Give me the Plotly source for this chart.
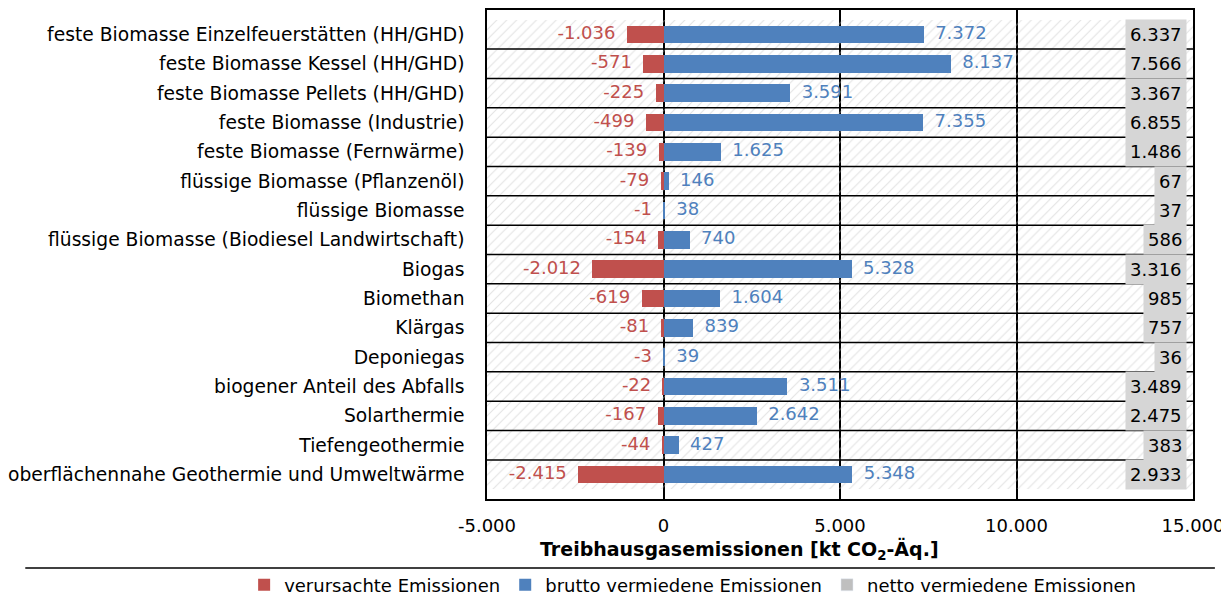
import plotly.graph_objects as go

# Kategorien (von oben nach unten)
kategorien = [
    "feste Biomasse Einzelfeuerstätten (HH/GHD)",
    "feste Biomasse Kessel (HH/GHD)",
    "feste Biomasse Pellets (HH/GHD)",
    "feste Biomasse (Industrie)",
    "feste Biomasse (Fernwärme)",
    "flüssige Biomasse (Pflanzenöl)",
    "flüssige Biomasse",
    "flüssige Biomasse (Biodiesel Landwirtschaft)",
    "Biogas",
    "Biomethan",
    "Klärgas",
    "Deponiegas",
    "biogener Anteil des Abfalls",
    "Solarthermie",
    "Tiefengeothermie",
    "oberflächennahe Geothermie und Umweltwärme",
]

verursacht = [-1036, -571, -225, -499, -139, -79, -1, -154, -2012, -619, -81, -3, -22, -167, -44, -2415]
brutto = [7372, 8137, 3591, 7355, 1625, 146, 38, 740, 5328, 1604, 839, 39, 3511, 2642, 427, 5348]
netto = [6337, 7566, 3367, 6855, 1486, 67, 37, 586, 3316, 985, 757, 36, 3489, 2475, 383, 2933]

x_ticks = [-5000, 0, 5000, 10000, 15000]

ROT = "#C0504D"
BLAU = "#4F81BD"
GRAU = "#D6D6D6"
FONT = "DejaVu Sans"
FS = 18


def de(v):
    # deutsches Tausendertrennzeichen
    return f"{v:,}".replace(",", ".")


fig = go.Figure()

# schraffierter Hintergrund
fig.add_trace(go.Bar(
    y=kategorien, x=[x_ticks[-1] - x_ticks[0]] * len(kategorien), base=x_ticks[0],
    orientation="h", width=1,
    marker=dict(color="rgba(0,0,0,0)", line=dict(width=0),
                pattern=dict(shape="/", fgcolor="#c6c6c6", size=7, solidity=0.15)),
    showlegend=False, hoverinfo="skip",
))

fig.add_trace(go.Bar(
    y=kategorien, x=verursacht, orientation="h", width=0.6,
    name="verursachte Emissionen", marker=dict(color=ROT, line=dict(width=0)),
    hoverinfo="x+y",
))

fig.add_trace(go.Bar(
    y=kategorien, x=brutto, orientation="h", width=0.6,
    name="brutto vermiedene Emissionen", marker=dict(color=BLAU, line=dict(width=0)),
    hoverinfo="x+y",
))

# Legendeneintrag für netto
fig.add_trace(go.Bar(
    y=[None], x=[None], orientation="h",
    name="netto vermiedene Emissionen", marker_color="#BFBFBF",
))

# Datenbeschriftungen
fig.add_trace(go.Scatter(
    y=kategorien, x=verursacht, mode="text",
    text=[de(v) + "  " for v in verursacht], textposition="middle left",
    textfont=dict(color=ROT, size=FS, family=FONT),
    showlegend=False, hoverinfo="skip", cliponaxis=False,
))
fig.add_trace(go.Scatter(
    y=kategorien, x=brutto, mode="text",
    text=["  " + de(v) for v in brutto], textposition="middle right",
    textfont=dict(color=BLAU, size=FS, family=FONT),
    showlegend=False, hoverinfo="skip", cliponaxis=False,
))

# netto-Werte als graue Textboxen rechts
for kat, v in zip(kategorien, netto):
    fig.add_annotation(
        x=14840, y=kat, xref="x", yref="y", text=de(v), showarrow=False,
        xanchor="right", yanchor="middle", bgcolor=GRAU, borderpad=4,
        font=dict(size=FS, color="black", family=FONT),
    )

# Achsentitel
fig.add_annotation(
    x=0.358, y=-0.105, xref="paper", yref="paper", showarrow=False,
    text="<b>Treibhausgasemissionen [kt CO<sub>2</sub>-Äq.]</b>",
    xanchor="center", yanchor="middle", font=dict(size=19, family=FONT),
)

# Trennlinien zwischen den Zeilen
for i in range(len(kategorien) - 1):
    fig.add_shape(type="line", xref="paper", yref="y", x0=0, x1=1, y0=i + 0.5, y1=i + 0.5,
                  line=dict(color="black", width=1.5), layer="above")

# Linie unter dem Achsentitel
fig.add_shape(type="line", xref="paper", yref="paper",
              x0=-0.654, x1=1.031, y0=-0.141, y1=-0.141,
              line=dict(color="black", width=1.5))

fig.update_layout(
    width=1221, height=599,
    barmode="overlay",
    bargap=0,
    paper_bgcolor="white", plot_bgcolor="white",
    margin=dict(l=479, r=36, t=2, b=108),
    font=dict(family=FONT, size=FS, color="black"),
    legend=dict(orientation="h", x=-0.344, xanchor="left", y=-0.176, yanchor="middle",
                bgcolor="rgba(0,0,0,0)",
                font=dict(size=FS), itemwidth=30, traceorder="normal"),
    showlegend=True,
)

fig.update_xaxes(
    range=[x_ticks[0], x_ticks[-1]],
    tickvals=x_ticks, ticktext=[de(v) for v in x_ticks],
    showgrid=True, gridcolor="black", gridwidth=1.5,
    zeroline=True, zerolinecolor="black", zerolinewidth=1.5,
    showline=True, linecolor="black", linewidth=1.5, mirror=True,
    ticks="", tickfont=dict(size=FS), ticklabelstandoff=10, automargin=False,
)

fig.update_yaxes(
    autorange="reversed",
    showgrid=False,
    showline=True, linecolor="black", linewidth=1.5, mirror=True,
    ticks="", ticklabelstandoff=17, tickfont=dict(size=18.7), automargin=False,
)

fig.write_html("out.html")
